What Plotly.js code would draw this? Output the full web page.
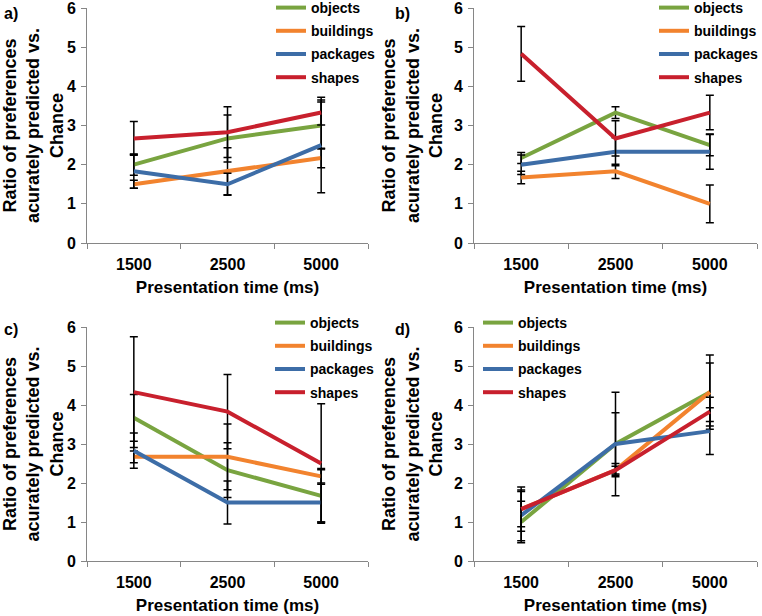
<!DOCTYPE html>
<html><head><meta charset="utf-8">
<script src="https://cdn.plot.ly/plotly-3.0.1.min.js"></script>
<style>html,body{margin:0;padding:0;background:#fff}#chart{width:762px;height:616px}</style>
</head><body><div id="chart"></div>
<script>
// ---- data ----
const categories = ['1500', '2500', '5000'];
const seriesNames = ['objects', 'buildings', 'packages', 'shapes'];
const panelLabels = ['a)', 'b)', 'c)', 'd)'];
const xTitle = 'Presentation time (ms)';
const yTitle = 'Ratio of preferences<br>acurately predicted vs.<br>Chance';

// panel a
const objectsA = [2.0, 2.67, 3.0];     const objectsErrA = [0.27, 0.6, 0.6];
const buildingsA = [1.5, 1.83, 2.17];  const buildingsErrA = [0.1, 0.6, 0.25];
const packagesA = [1.83, 1.5, 2.5];    const packagesErrA = [0.43, 0.28, 1.22];
const shapesA = [2.67, 2.83, 3.33];    const shapesErrA = [0.43, 0.65, 0.32];
// panel b
const objectsB = [2.17, 3.33, 2.5];    const objectsErrB = [0.14, 0.15, 0.27];
const buildingsB = [1.67, 1.83, 1.0];  const buildingsErrB = [0.16, 0.18, 0.48];
const packagesB = [2.0, 2.33, 2.33];   const packagesErrB = [0.25, 0.36, 0.45];
const shapesB = [4.83, 2.67, 3.33];    const shapesErrB = [0.7, 0.45, 0.44];
// panel c
const objectsC = [3.67, 2.33, 1.67];   const objectsErrC = [0.6, 0.7, 0.67];
const buildingsC = [2.67, 2.67, 2.17]; const buildingsErrC = [0.15, 0.84, 0.2];
const packagesC = [2.83, 1.5, 1.5];    const packagesErrC = [0.45, 0.55, 0.5];
const shapesC = [4.33, 3.83, 2.5];     const shapesErrC = [1.42, 0.95, 1.53];
// panel d
const objectsD = [1.0, 3.0, 4.33];     const objectsErrD = [0.53, 1.33, 0.95];
const buildingsD = [1.33, 2.33, 4.33]; const buildingsErrD = [0.57, 0.17, 0.75];
const packagesD = [1.17, 3.0, 3.33];   const packagesErrD = [0.65, 0.8, 0.6];
const shapesD = [1.33, 2.33, 3.83];    const shapesErrD = [0.45, 0.1, 0.37];

// ---- styling ----
const colors = ['#79A440', '#F2832E', '#3D6DA7', '#C8202D'];
const FONT = 'Liberation Sans, Arial, Helvetica, sans-serif';
const W = 762, H = 616;

const panels = [
  {vals: [objectsA, buildingsA, packagesA, shapesA], errs: [objectsErrA, buildingsErrA, packagesErrA, shapesErrA]},
  {vals: [objectsB, buildingsB, packagesB, shapesB], errs: [objectsErrB, buildingsErrB, packagesErrB, shapesErrB]},
  {vals: [objectsC, buildingsC, packagesC, shapesC], errs: [objectsErrC, buildingsErrC, packagesErrC, shapesErrC]},
  {vals: [objectsD, buildingsD, packagesD, shapesD], errs: [objectsErrD, buildingsErrD, packagesErrD, shapesErrD]}
];

// plot-area boxes in px: [left, right, top, bottom]
const boxes = [[87, 368, 8, 243], [474, 757, 8, 243], [87, 368, 327, 561], [474, 757, 327, 561]];
// legend anchors in px (left, top)
const legendPos = [[271, -8], [654, -8], [270, 307], [478, 307]];
// panel label positions in px
const labelPos = [[2, 3], [393, 3], [2, 319], [393, 319]];

const traces = [];
const layout = {
  width: W, height: H,
  margin: {l: 0, r: 0, t: 0, b: 0, autoexpand: false},
  paper_bgcolor: '#fff', plot_bgcolor: 'rgba(0,0,0,0)',
  font: {family: FONT, color: '#000'},
  annotations: []
};

panels.forEach((p, i) => {
  const n = i + 1;
  const xa = n === 1 ? 'x' : 'x' + n;
  const ya = n === 1 ? 'y' : 'y' + n;
  const lg = n === 1 ? 'legend' : 'legend' + n;
  p.vals.forEach((v, s) => {
    traces.push({
      type: 'scatter', mode: 'lines',
      x: categories, y: v,
      xaxis: xa, yaxis: ya,
      name: seriesNames[s],
      legend: lg, legendgroup: 'g' + n + s,
      line: {color: colors[s], width: 4},
      error_y: {type: 'data', array: p.errs[s], visible: true, color: '#000', thickness: 1.5, width: 4},
      hoverinfo: 'x+y+name'
    });
  });
  const b = boxes[i];
  const xk = n === 1 ? 'xaxis' : 'xaxis' + n;
  const yk = n === 1 ? 'yaxis' : 'yaxis' + n;
  layout[xk] = {
    domain: [b[0] / W, b[1] / W], anchor: ya,
    type: 'category', range: [-0.5, 2.5], tickson: 'boundaries',
    ticks: 'outside', ticklen: 5, tickcolor: '#868686', tickwidth: 1,
    showline: true, linecolor: '#868686', linewidth: 1,
    showgrid: false, zeroline: false, fixedrange: true,
    tickfont: {family: FONT, size: 16, weight: 'bold', color: '#000'},
    ticklabelstandoff: 7, ticklabeloverflow: 'allow',
    title: {text: xTitle, font: {family: FONT, size: 17, weight: 'bold', color: '#000'}, standoff: 8}
  };
  layout[yk] = {
    domain: [1 - b[3] / H, 1 - b[2] / H], anchor: xa,
    range: [0, 6], dtick: 1, tick0: 0,
    ticks: 'outside', ticklen: 5, tickcolor: '#868686', tickwidth: 1,
    showline: true, linecolor: '#868686', linewidth: 1,
    showgrid: false, zeroline: false, fixedrange: true,
    tickfont: {family: FONT, size: 16, weight: 'bold', color: '#000'},
    ticklabelstandoff: 2, ticklabeloverflow: 'allow',
    title: {text: yTitle, font: {family: FONT, size: 18, weight: 'bold', color: '#000'}, standoff: 6}
  };
  const lp = legendPos[i];
  layout[lg] = {
    x: lp[0] / W, y: 1 - lp[1] / H, xanchor: 'left', yanchor: 'top',
    bgcolor: 'rgba(0,0,0,0)', borderwidth: 0,
    font: {family: FONT, size: 14, weight: 'bold', color: '#000'},
    traceorder: 'grouped', tracegroupgap: 2, itemwidth: 30
  };
  const la = labelPos[i];
  layout.annotations.push({
    text: panelLabels[i], xref: 'paper', yref: 'paper',
    x: la[0] / W, y: 1 - la[1] / H, xanchor: 'left', yanchor: 'top',
    showarrow: false, font: {family: FONT, size: 16, weight: 'bold', color: '#000'}
  });
});

Plotly.newPlot('chart', traces, layout, {displayModeBar: false, staticPlot: true});
</script>
</body></html>
